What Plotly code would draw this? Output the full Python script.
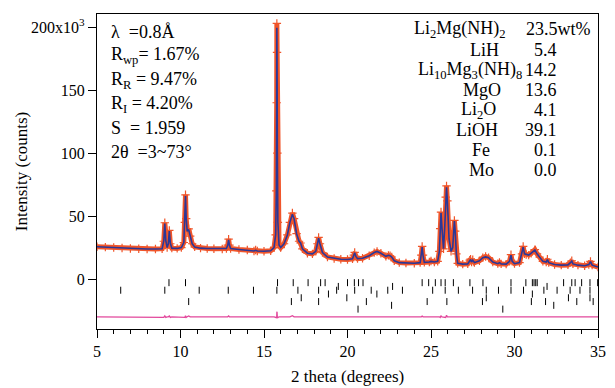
import plotly.graph_objects as go

# ---------------- data ----------------
two_theta = [5.00, 5.5, 6.0, 6.5, 7.0, 7.5, 8.0, 8.5, 8.9, 9.00, 9.06, 9.12, 9.20, 9.27, 9.33, 9.39, 9.48,
             9.8, 10.05, 10.20, 10.26, 10.30, 10.34, 10.40, 10.49, 10.58, 10.70, 10.85, 11.2, 11.6, 12.0,
             12.5, 12.75, 12.83, 12.88, 12.93, 13.0, 13.5, 14.0, 14.4, 14.5, 14.6, 15.0, 15.4, 15.6,
             15.70, 15.74, 15.76, 15.77, 15.78, 15.80, 15.83, 15.9, 16.0, 16.2, 16.4, 16.55, 16.70,
             16.80, 16.95, 17.1, 17.19, 17.3, 17.6, 17.9, 18.1, 18.2, 18.27, 18.35, 18.5, 18.8, 19.2,
             19.6, 20.0, 20.3, 20.38, 20.43, 20.5, 20.6, 20.9, 21.3, 21.6, 21.77, 22.0, 22.3, 22.45,
             22.55, 22.65, 22.8, 23.1, 23.5, 24.0, 24.35, 24.42, 24.47, 24.52, 24.6, 24.9, 25.0, 25.2,
             25.4, 25.50, 25.55, 25.60, 25.66, 25.75, 25.82, 25.88, 25.93, 25.98, 26.08, 26.2, 26.30,
             26.36, 26.40, 26.45, 26.52, 26.6, 26.9, 27.2, 27.32, 27.37, 27.43, 27.50, 27.6, 27.9,
             28.1, 28.27, 28.45, 28.7, 29.0, 29.1, 29.2, 29.5, 29.70, 29.79, 29.86, 30.0, 30.3, 30.45,
             30.52, 30.6, 30.70, 30.85, 31.0, 31.22, 31.35, 31.5, 31.7, 31.9, 31.97, 32.05, 32.4, 32.8,
             33.2, 33.35, 33.43, 33.5, 33.8, 34.2, 34.45, 34.55, 34.65, 35.0]

# observed intensity (x10^3 counts)
y_obs = [25.6, 25.3, 25.0, 24.6, 24.2, 24.0, 23.9, 23.9, 24.1, 30.0, 44.7, 30.0, 25.0, 28.0, 38.6, 28.0, 24.5,
         24.3, 25.0, 29.0, 45.0, 66.9, 48.0, 38.0, 39.9, 34.0, 28.0, 25.5, 24.5, 24.2, 24.0,
         23.8, 24.2, 27.0, 31.7, 27.0, 24.2, 23.5, 23.0, 22.3, 23.0, 22.2, 22.0, 22.4, 25.0,
         35.0, 70.0, 140.0, 203.0, 180.0, 100.0, 45.0, 27.0, 25.0, 28.0, 35.0, 45.0, 52.4,
         48.0, 36.0, 30.0, 28.6, 24.0, 20.5, 20.0, 22.0, 28.0, 33.0, 28.0, 21.0, 17.5, 16.3,
         15.7, 15.5, 16.0, 19.0, 21.1, 18.0, 16.2, 16.5, 18.5, 21.0, 21.9, 20.5, 18.0, 18.8,
         18.5, 17.5, 14.5, 13.0, 12.7, 12.5, 13.0, 19.0, 25.9, 19.0, 13.2, 13.5, 14.3, 13.5,
         14.0, 22.0, 40.0, 53.2, 40.0, 24.0, 40.0, 65.0, 74.0, 62.0, 32.0, 22.0, 25.0,
         38.0, 46.5, 38.0, 20.0, 12.5, 11.8, 12.0, 15.0, 15.8, 13.5, 15.3, 13.0, 14.5,
         17.0, 17.9, 17.0, 13.5, 12.2, 13.2, 12.0, 11.8, 14.0, 19.3, 14.0, 12.2, 13.0, 20.0,
         25.9, 20.0, 19.5, 19.0, 20.5, 23.3, 20.0, 17.5, 14.0, 13.5, 15.7, 13.0, 11.5, 11.0,
         11.2, 13.0, 14.5, 12.0, 11.0, 10.5, 11.5, 14.0, 11.0, 9.5]

# calculated intensity (x10^3 counts)
y_calc = [25.6, 25.3, 25.0, 24.6, 24.2, 24.0, 23.9, 23.9, 24.1, 30.5, 44.0, 30.5, 25.0, 28.0, 38.0, 28.5, 24.5,
          24.3, 25.0, 29.0, 45.5, 66.0, 48.5, 38.0, 39.2, 34.0, 28.0, 25.5, 24.5, 24.2, 24.0,
          23.8, 24.2, 27.0, 31.0, 27.0, 24.2, 23.5, 23.0, 22.3, 22.8, 22.2, 22.0, 22.4, 25.0,
          35.5, 71.0, 141.0, 199.5, 176.0, 101.0, 45.5, 27.0, 25.0, 28.0, 35.0, 45.0, 51.5,
          48.0, 36.0, 30.0, 28.6, 24.0, 20.5, 20.0, 22.0, 28.0, 32.5, 28.0, 21.0, 17.5, 16.3,
          15.7, 15.5, 16.0, 19.0, 20.8, 18.0, 16.2, 16.5, 18.5, 21.0, 21.9, 20.5, 18.0, 18.8,
          18.5, 17.5, 14.5, 13.0, 12.7, 12.5, 13.0, 19.0, 25.3, 19.0, 13.2, 13.5, 14.0, 13.5,
          14.0, 22.0, 40.5, 52.5, 40.0, 24.0, 40.5, 65.5, 72.8, 62.0, 32.0, 22.0, 25.0,
          38.0, 46.0, 38.0, 20.0, 12.5, 11.8, 12.0, 15.0, 15.5, 13.5, 15.0, 13.0, 14.5,
          17.0, 17.6, 17.0, 13.5, 12.2, 13.0, 12.0, 11.8, 14.0, 19.0, 14.0, 12.2, 13.0, 20.0,
          25.4, 20.0, 19.5, 19.0, 20.5, 23.0, 20.0, 17.5, 14.0, 13.5, 15.5, 13.0, 11.5, 11.0,
          11.2, 13.0, 14.3, 12.0, 11.0, 10.5, 11.5, 13.8, 11.0, 9.5]

diff_offset = -30.0

phase_names = ["Li<sub>2</sub>Mg(NH)<sub>2</sub>", "LiH", "Li<sub>10</sub>Mg<sub>3</sub>(NH)<sub>8</sub>",
               "MgO", "Li<sub>2</sub>O", "LiOH", "Fe", "Mo"]
phase_wt = ["23.5", "5.4", "14.2", "13.6", "4.1", "39.1", "0.1", "0.0"]

reflections = [
    [9.31, 10.30, 15.81, 16.75, 17.64, 18.39, 18.66, 20.00, 20.41, 20.66, 20.93, 24.47, 24.86, 25.26,
     25.60, 25.85, 26.34, 27.33, 28.11, 29.79, 30.68, 31.07, 31.17, 31.27, 31.36, 32.94, 33.43, 33.63,
     34.02, 34.52, 34.98],
    [19.45, 22.70, 31.95],
    [6.42, 9.06, 11.12, 12.86, 14.37, 15.77, 17.03, 18.27, 19.35, 20.43, 21.42, 22.41, 23.29, 25.10,
     25.85, 26.64, 27.49, 28.31, 29.04, 29.79, 30.54, 31.76, 32.55, 33.33, 33.92, 34.52],
    [18.86, 21.76, 31.07],
    [17.23, 19.96, 28.31, 33.23, 34.52],
    [10.49, 16.64, 18.27, 21.13, 24.77, 25.95, 28.08, 31.01, 31.86, 33.73, 34.71],
    [22.64, 32.35],
    [20.63, 29.30],
]

stats_lines = ["λ\u00a0\u00a0=0.8Å", "R<sub>wp</sub>= 1.67%", "R<sub>R</sub> = 9.47%",
               "R<sub>I</sub> = 4.20%", "S\u00a0\u00a0= 1.959", "2θ\u00a0\u00a0=3~73°"]

y_tickvals = [0, 50, 100, 150, 200]
y_ticktext = ["0", "50", "100", "150", "200x10<sup>3</sup>"]
x_tickvals = [5, 10, 15, 20, 25, 30, 35]

# ---------------- figure ----------------
ORANGE = "#F0552A"
BLUE = "#2B3797"
MAGENTA = "#E2489C"
FONT = "Liberation Serif, Times New Roman, serif"

fig = go.Figure()

fig.add_trace(go.Scatter(
    x=two_theta, y=y_obs, mode="lines+markers",
    line=dict(color=ORANGE, width=5),
    marker=dict(symbol="cross-thin", size=6, line=dict(color=ORANGE, width=1.2), color=ORANGE),
    hoverinfo="skip", showlegend=False))

fig.add_trace(go.Scatter(
    x=two_theta, y=y_calc, mode="lines",
    line=dict(color=BLUE, width=1.6),
    hoverinfo="skip", showlegend=False))

diff = [o - c + diff_offset for o, c in zip(y_obs, y_calc)]
fig.add_trace(go.Scatter(
    x=two_theta, y=diff, mode="lines",
    line=dict(color=MAGENTA, width=1.3),
    hoverinfo="skip", showlegend=False))

for i, pos in enumerate(reflections):
    row_y = -2.9 - 3.0 * i
    fig.add_trace(go.Scatter(
        x=pos, y=[row_y] * len(pos), mode="markers",
        marker=dict(symbol="line-ns", size=5, line=dict(color="black", width=1)),
        hoverinfo="skip", showlegend=False))

L, R, T, B = 97, 9, 14, 59
W, H = 615, 388
PW, PH = W - L - R, H - T - B


def px(xp):
    return (xp - L) / PW


def py(yp):
    return (H - B - yp) / PH


ann = []
stat_y = [32, 56, 80, 104, 128, 152]
for txt, yy in zip(stats_lines, stat_y):
    ann.append(dict(x=px(109), y=py(yy), xref="paper", yref="paper", text=txt, showarrow=False,
                    xanchor="left", yanchor="middle", font=dict(family=FONT, size=18, color="black")))

name_right = [515, 507, 531, 509, 504, 506, 498, 502]
row_y = [29, 50, 70, 90, 110, 130, 150, 170]
for name, wt, xr, yy in zip(phase_names, phase_wt, name_right, row_y):
    ann.append(dict(x=px(xr), y=py(yy), xref="paper", yref="paper", text=name, showarrow=False,
                    xanchor="right", yanchor="middle", font=dict(family=FONT, size=18, color="black")))
    if wt == phase_wt[0]:
        ann.append(dict(x=px(531), y=py(yy), xref="paper", yref="paper", text=wt + "wt%",
                        showarrow=False, xanchor="left", yanchor="middle",
                        font=dict(family=FONT, size=18, color="black")))
    else:
        ann.append(dict(x=px(566), y=py(yy), xref="paper", yref="paper", text=wt, showarrow=False,
                        xanchor="right", yanchor="middle", font=dict(family=FONT, size=18, color="black")))

ann.append(dict(x=px(20), y=py(172), xref="paper", yref="paper", text="Intensity (counts)",
                showarrow=False, textangle=-90, xanchor="center", yanchor="middle",
                font=dict(family=FONT, size=17, color="black")))
ann.append(dict(x=px(351), y=py(377), xref="paper", yref="paper", text="2 theta (degrees)",
                showarrow=False, xanchor="center", yanchor="middle",
                font=dict(family=FONT, size=17, color="black")))

fig.update_layout(
    width=W, height=H,
    margin=dict(l=L, r=R, t=T, b=B),
    paper_bgcolor="white", plot_bgcolor="white",
    font=dict(family=FONT, size=16, color="black"),
    annotations=ann,
    showlegend=False,
)

fig.update_xaxes(
    range=[5, 35], tickvals=x_tickvals, ticks="outside", ticklen=8, tickwidth=1, tickcolor="black",
    minor=dict(dtick=1, ticks="outside", ticklen=4, tickwidth=1, tickcolor="black"),
    showline=True, linecolor="black", linewidth=1.2, mirror=True, showgrid=False, zeroline=False,
    tickfont=dict(family=FONT, size=16, color="black"))

fig.update_yaxes(
    range=[-39.7, 210.5], tickvals=y_tickvals, ticktext=y_ticktext, ticks="outside", ticklen=8,
    tickwidth=1, tickcolor="black",
    showline=True, linecolor="black", linewidth=1.2, mirror=True, showgrid=False, zeroline=False,
    tickfont=dict(family=FONT, size=16, color="black"))

fig.write_html("out.html", config={"displayModeBar": False},
               post_script="document.body.style.margin='0';")
